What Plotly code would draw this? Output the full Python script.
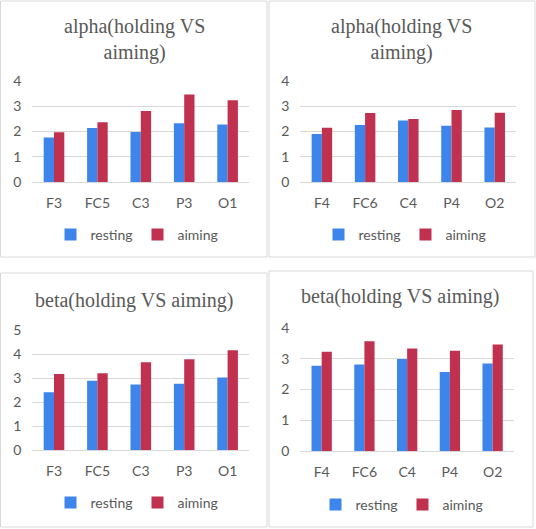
import plotly.graph_objects as go

W, H = 536, 529

# ---- data ----
cats_left = ["F3", "FC5", "C3", "P3", "O1"]
cats_right = ["F4", "FC6", "C4", "P4", "O2"]

alpha_left_resting = [1.76, 2.14, 1.98, 2.32, 2.28]
alpha_left_aiming = [1.97, 2.36, 2.81, 3.46, 3.23]

alpha_right_resting = [1.90, 2.26, 2.43, 2.23, 2.16]
alpha_right_aiming = [2.15, 2.73, 2.49, 2.85, 2.74]

beta_left_resting = [2.41, 2.89, 2.74, 2.77, 3.03]
beta_left_aiming = [3.17, 3.20, 3.66, 3.78, 4.16]

beta_right_resting = [2.77, 2.81, 2.99, 2.57, 2.84]
beta_right_aiming = [3.22, 3.56, 3.33, 3.25, 3.46]

titles = ["alpha(holding VS<br>aiming)", "alpha(holding VS<br>aiming)",
          "beta(holding VS aiming)", "beta(holding VS aiming)"]
series_names = ["resting", "aiming"]

BLUE = "#3d85ea"
RED = "#c0304f"
GRID = "#d9d9d9"
TXT = "#595959"


def px(x):
    return x / W


def py(y):
    return 1 - y / H


panels = [
    dict(cats=cats_left, r=alpha_left_resting, a=alpha_left_aiming, ymax=4,
         xd=(32.3, 249.3), yd=(80.7, 182.3), box=(0.5, 1, 267, 257),
         title_xy=(134, 39.2), leg_xy=(137, 235)),
    dict(cats=cats_right, r=alpha_right_resting, a=alpha_right_aiming, ymax=4,
         xd=(300.3, 516.3), yd=(80.7, 182.3), box=(269, 1, 535, 257),
         title_xy=(401, 39.2), leg_xy=(405, 235)),
    dict(cats=cats_left, r=beta_left_resting, a=beta_left_aiming, ymax=5,
         xd=(32.3, 249.3), yd=(330, 450.3), box=(0.5, 273, 267, 527),
         title_xy=(134, 300), leg_xy=(137, 503)),
    dict(cats=cats_right, r=beta_right_resting, a=beta_right_aiming, ymax=4,
         xd=(300.3, 514), yd=(327.7, 451.3), box=(269, 271, 533, 527),
         title_xy=(400, 296.7), leg_xy=(402, 505)),
]

fig = go.Figure()
layout = dict(
    template="none",
    width=W, height=H, margin=dict(l=0, r=0, t=0, b=0, pad=0, autoexpand=False),
    paper_bgcolor="white", plot_bgcolor="white",
    barmode="group", bargap=0.525, bargroupgap=0,
    shapes=[], annotations=[],
)

for i, p in enumerate(panels):
    n = i + 1
    xa = "x" if n == 1 else f"x{n}"
    ya = "y" if n == 1 else f"y{n}"
    leg = "legend" if n == 1 else f"legend{n}"
    for name, vals, col in [(series_names[0], p["r"], BLUE), (series_names[1], p["a"], RED)]:
        fig.add_trace(go.Bar(x=p["cats"], y=vals, name=name, marker=dict(color=col, line=dict(width=0)),
                             xaxis=xa, yaxis=ya, legend=leg, offsetgroup=name))
    xkey = "xaxis" if n == 1 else f"xaxis{n}"
    ykey = "yaxis" if n == 1 else f"yaxis{n}"
    layout[xkey] = dict(domain=[px(p["xd"][0]), px(p["xd"][1])], anchor=ya,
                        type="category", range=[-0.5, 4.5], showgrid=False,
                        showline=True, linecolor=GRID, linewidth=1, ticks="",
                        tickfont=dict(family="Lato", size=14, color=TXT),
                        ticklabelstandoff=8, fixedrange=True, automargin=False)
    layout[ykey] = dict(domain=[py(p["yd"][1]), py(p["yd"][0])], anchor=xa,
                        range=[0, p["ymax"]], dtick=1, showgrid=True, gridcolor=GRID,
                        gridwidth=1, zeroline=False, showline=False, ticks="",
                        tickfont=dict(family="Lato", size=14, color=TXT),
                        ticklabelstandoff=10, fixedrange=True, automargin=False)
    layout[leg] = dict(orientation="h", x=px(p["leg_xy"][0]), y=py(p["leg_xy"][1]),
                       xanchor="center", yanchor="middle", xref="paper", yref="paper",
                       font=dict(family="Lato", size=14, color=TXT), itemwidth=30,
                       bgcolor="rgba(0,0,0,0)", borderwidth=0)
    bx0, by0, bx1, by1 = p["box"]
    layout["shapes"].append(dict(type="rect", xref="paper", yref="paper",
                                 x0=px(bx0), x1=px(bx1), y0=py(by0), y1=py(by1),
                                 line=dict(color=GRID, width=1), fillcolor="rgba(0,0,0,0)"))
    layout["annotations"].append(dict(text=titles[i], xref="paper", yref="paper",
                                      x=px(p["title_xy"][0]), y=py(p["title_xy"][1]),
                                      xanchor="center", yanchor="middle", showarrow=False,
                                      font=dict(family="Liberation Serif", size=20, color=TXT)))

fig.update_layout(**layout)
fig.write_html("out.html", config={"displayModeBar": False},
               post_script="document.body.style.margin='0';document.body.style.overflow='hidden';")
